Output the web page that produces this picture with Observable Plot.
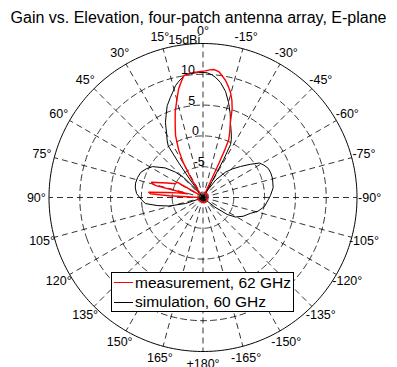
<!DOCTYPE html>
<html>
<head>
<meta charset="utf-8">
<script src="https://cdn.jsdelivr.net/npm/d3@7"></script>
<script src="https://cdn.jsdelivr.net/npm/@observablehq/plot@0.6"></script>
<style>
  body { margin: 0; background: #fff; font-family: Arial, "Liberation Sans", sans-serif; }
  #wrap { position: relative; width: 397px; height: 367px; overflow: hidden; }
  #title { height: 26px; line-height: 26px; font-size: 16px; text-align: center; position: relative; top: 5px; color: #000; white-space: nowrap; }
  #legend { position: absolute; left: 111px; top: 272px; width: 181px; height: 38px; border: 1px solid #000; background: #fff; font-size: 15.5px; color: #000; }
  #legend .row { position: absolute; left: 0; height: 19px; display: flex; align-items: center; white-space: nowrap; }
  #legend .sw { display: inline-block; width: 19px; height: 0; border-top: 1px solid; margin: 0 2px 0 2px; }
</style>
</head>
<body>
<div id="wrap">
  <div id="title">Gain vs. Elevation, four-patch antenna array, E-plane</div>
  <div id="chart"></div>
  <div id="legend"></div>
</div>
<script>
// Elevation angle (deg, positive toward the left of boresight) and gain (dBi)
const simAngle = [-180, -170, -160, -150, -140, -133, -129, -125, -121, -115, -108.6, -104, -98.3, -92, -88.3, -82, -74.7, -70, -66, -62, -58.6, -55, -50.4, -46, -41.6, -36, -33, -30.5, -29.5, -28.5, -27.5, -26, -24, -22, -20, -18, -15, -12, -8.6, -6, -4, -2, 0, 2, 5, 8, 10, 12, 13.8, 16, 18, 21.3, 24, 26.5, 28, 29.7, 32, 34, 35, 36, 37, 38.5, 41, 44, 47.4, 52, 58.5, 63, 68, 73, 78, 82, 86.6, 92, 96, 100, 104, 109, 113, 120, 130, 140, 150, 160, 170, 180];
const simGain = [-9.5, -9.4, -9.6, -9.3, -9.5, -9.7, -7.5, -5.2, -3.85, -2.8, -1.9, -0.8, 0.1, 0.6, 0.96, 1.5, 1.7, 1.7, 1.6, 1.2, 0.75, -0.6, -2.1, -3.3, -4.5, -6.5, -8.5, -9.8, -7, -3, -0.3, 0.5, 1.3, 2.1, 3.0, 4.3, 6.0, 7.6, 8.9, 9.6, 10.0, 10.25, 10.3, 10.3, 10.25, 10.15, 9.7, 9.2, 8.7, 7.8, 7.1, 6.0, 4.7, 3.65, 2.8, 1.9, 1.0, 0.1, -3, -6.5, -9.5, -9.9, -8, -5.5, -3.9, -2.2, -0.4, 0.3, 0.9, 1.1, 1.2, 1.1, 0.8, 0, -0.6, -2.45, -4.3, -7, -9.7, -9.5, -9.3, -9.6, -9.4, -9.5, -9.3, -9.5];

const measAngle = [-180, -150, -120, -90, -60, -35, -27, -25.5, -25.2, -25, -24.6, -24, -22, -20, -18.2, -16.5, -14.6, -12.8, -10.9, -9, -7.1, -5, -3, -1, 1.1, 4, 6.5, 8.9, 10.5, 12.6, 15, 18, 21, 23.9, 25.5, 27.2, 29.5, 31.6, 33.5, 35, 45, 55, 57, 59.4, 63.5, 68, 73.5, 75, 75.8, 76.6, 78, 80, 82, 84.4, 86, 87, 88, 89, 110, 140, 180];
const measGain = [-9.2, -9.1, -9.3, -9.2, -9.1, -9.2, -9.4, -9.0, -7, -4, -1.5, 0.3, 1.6, 3.0, 5.16, 6.5, 7.67, 8.5, 9.34, 10.0, 10.6, 10.85, 10.75, 10.55, 10.45, 10.35, 10.25, 10.05, 9.2, 8.1, 6.4, 4.6, 2.6, 1.0, -0.3, -1.4, -3.5, -6.1, -8.5, -9.2, -9.1, -9.2, -8, -5.1, -5.0, -3.7, -1.3, -1.6, -2.1, -7.4, -6.7, -5.7, -4.15, -1.15, -1.45, -4.5, -8, -9.2, -9.1, -9.3, -9.2];

// Polar grid
const angleTicks = [0, 15, 30, 45, 60, 75, 90, 105, 120, 135, 150, 165, 180, -165, -150, -135, -120, -105, -90, -75, -60, -45, -30, -15];
const angleLabels = ["0°", "15°", "30°", "45°", "60°", "75°", "90°", "105°", "120°", "135°", "150°", "165°", "+180°", "-165°", "-150°", "-135°", "-120°", "-105°", "-90°", "-75°", "-60°", "-45°", "-30°", "-15°"];
const ringLevels = [-5, 0, 5, 10];
const ringLabels = ["-5", "0", "5", "10", "15dBi"];
const rMin = -10, rMax = 15;

const series = [
  {name: "measurement, 62 GHz", color: "#ff0000"},
  {name: "simulation, 60 GHz", color: "#000000"}
];

// gain (dB) -> polar-cap distance; angle -> longitude, with 0° at the top
const span = rMax - rMin;
const toLat = g => 90 - (Math.max(g, rMin) - rMin);
const toLon = a => 180 + a;
const cap = r => d3.geoCircle().center([0, 90]).radius(r).precision(1)();
const labelR = span * 1.082;
const radialLabelAngle = 7;

const simRows = simAngle.map((a, i) => ({lon: toLon(a), lat: toLat(simGain[i])}));
const measRows = measAngle.map((a, i) => ({lon: toLon(a), lat: toLat(measGain[i])}));

const grid = {stroke: "#000", strokeWidth: 0.8, strokeDasharray: "6,4"};

const chart = Plot.plot({
  width: 397,
  height: 341,
  marginLeft: 48.5,
  marginRight: 40.5,
  marginTop: 17,
  marginBottom: 16,
  projection: {type: "azimuthal-equidistant", rotate: [0, -90], domain: cap(span), clip: false},
  style: {fontFamily: "Arial, 'Liberation Sans', sans-serif", background: "transparent", color: "#000", overflow: "visible"},
  marks: [
    Plot.geo(ringLevels, {geometry: d => cap(d - rMin), fill: "none", ...grid}),
    Plot.link(angleTicks, {x1: a => toLon(a), y1: () => 90, x2: a => toLon(a), y2: () => 90 - span, ...grid}),
    Plot.geo([rMax], {geometry: d => cap(d - rMin), fill: "none", stroke: "#000", strokeWidth: 1}),
    Plot.line(simRows, {x: "lon", y: "lat", stroke: series[1].color, strokeWidth: 1, curve: "linear"}),
    Plot.line(measRows, {x: "lon", y: "lat", stroke: series[0].color, strokeWidth: 1.4, curve: "linear"}),
    Plot.text(angleTicks, {x: a => toLon(a), y: () => 90 - labelR, text: (d, i) => angleLabels[i], fontSize: 12.5, fill: "#000"}),
    Plot.text(ringLevels.concat([rMax]), {x: () => toLon(radialLabelAngle), y: d => toLat(d), text: (d, i) => ringLabels[i], fontSize: 12.5, lineAnchor: "bottom", dy: -1, fill: "#000"})
  ]
});
document.getElementById("chart").append(chart);

// Legend box
const legend = document.getElementById("legend");
series.forEach((s, i) => {
  const row = document.createElement("div");
  row.className = "row";
  row.style.top = (i * 19.5) + "px";
  const sw = document.createElement("span");
  sw.className = "sw";
  sw.style.borderTopColor = s.color;
  const label = document.createElement("span");
  label.textContent = s.name;
  row.append(sw, label);
  legend.append(row);
});
</script>
</body>
</html>
